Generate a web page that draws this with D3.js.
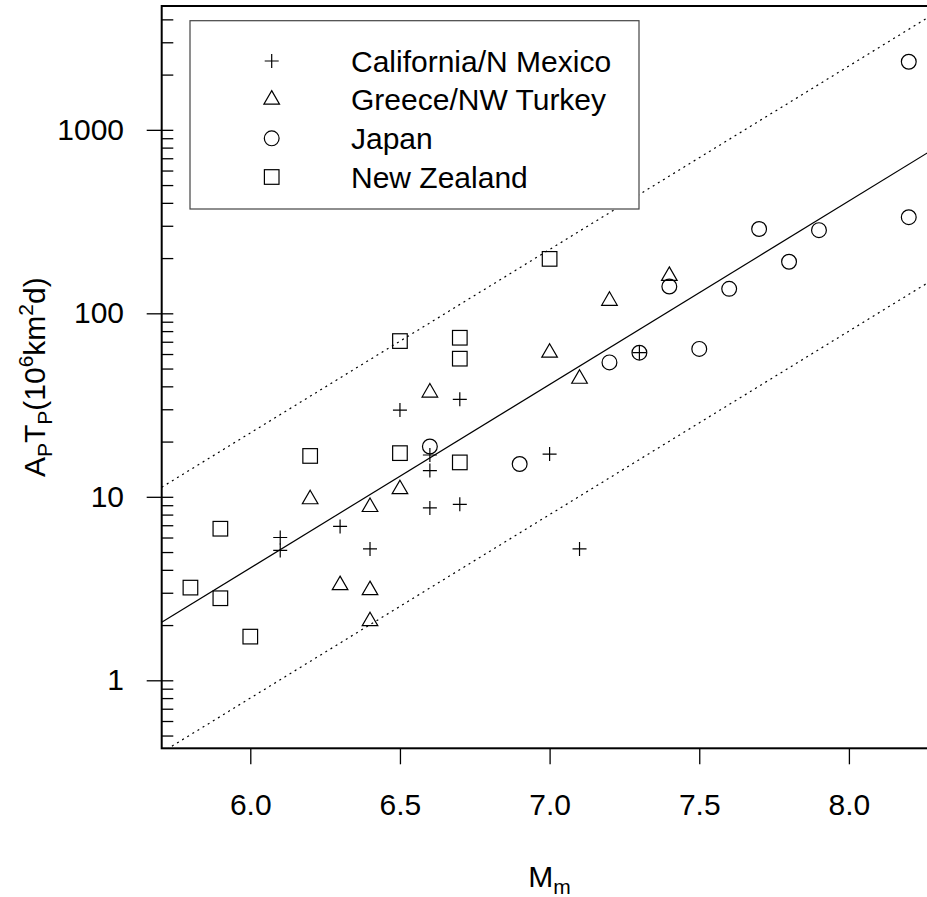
<!DOCTYPE html>
<html>
<head>
<meta charset="utf-8">
<script src="https://cdn.jsdelivr.net/npm/d3@7"></script>
<style>
  body { margin: 0; background: #fff; }
  svg { display: block; }
  text { font-family: "Liberation Sans", Arial, sans-serif; fill: #000; }
</style>
</head>
<body>
<div id="chart"></div>
<script>
// data
const regions = ["California/N Mexico", "Greece/NW Turkey", "Japan", "New Zealand"];
const symbols = ["plus", "triangle", "circle", "square"];

const caliM = [6.1, 6.1, 6.3, 6.4, 6.5, 6.6, 6.6, 6.6, 6.7, 6.7, 7.0, 7.1, 7.3];
const caliA = [6.0, 5.1, 6.9, 5.2, 29.7, 16.9, 13.9, 8.7, 34, 9.1, 17.1, 5.2, 61];

const greeceM = [6.2, 6.3, 6.4, 6.4, 6.4, 6.5, 6.6, 7.0, 7.1, 7.2, 7.4];
const greeceA = [9.7, 3.3, 8.8, 3.1, 2.1, 11.0, 37, 61, 44, 117, 160];

const japanM = [6.6, 6.9, 7.2, 7.3, 7.4, 7.5, 7.6, 7.7, 7.8, 7.9, 8.2, 8.2];
const japanA = [18.8, 15.1, 54, 61, 140, 64, 136, 288, 191, 284, 334, 2350];

const nzM = [5.8, 5.9, 5.9, 6.0, 6.2, 6.5, 6.5, 6.7, 6.7, 6.7, 7.0];
const nzA = [3.2, 2.8, 6.7, 1.73, 16.7, 70.6, 17.3, 73.6, 56.6, 15.4, 198];

// log10(ApTp) = intercept + slope * M
const lineSlope = 1;
const lineIntercepts = [-5.388, -4.652, -6.097];
const lineDash = [null, "2,4", "2,4"];

const xTicks = [6.0, 6.5, 7.0, 7.5, 8.0];
const yMajor = [1, 10, 100, 1000];
const yMinor = [0.5, 0.6, 0.7, 0.8, 0.9,
  2, 3, 4, 5, 6, 7, 8, 9, 20, 30, 40, 50, 60, 70, 80, 90,
  200, 300, 400, 500, 600, 700, 800, 900, 2000, 3000, 4000];

const width = 927, height = 897;
const plotL = 161.7, plotR = 937.5, plotT = 6, plotB = 748.3;
const fontSize = 30, subSize = 21;

const x = d3.scaleLinear().domain([5.704, 8.296]).range([plotL, plotR]);
const y = d3.scaleLog().domain([0.426, 4730]).range([plotB, plotT]);

const svg = d3.select("#chart").append("svg")
  .attr("width", width)
  .attr("height", height);

svg.append("defs").append("clipPath").attr("id", "plotclip")
  .append("rect")
  .attr("x", plotL).attr("y", plotT)
  .attr("width", plotR - plotL).attr("height", plotB - plotT);

const plot = svg.append("g").attr("clip-path", "url(#plotclip)");

// fitted line and the two bounds
const line = d3.line().x(d => x(d[0])).y(d => y(d[1]));
lineIntercepts.forEach((a, i) => {
  const pts = x.domain().map(m => [m, Math.pow(10, a + lineSlope * m)]);
  plot.append("path")
    .attr("d", line(pts))
    .attr("fill", "none")
    .attr("stroke", "#000")
    .attr("stroke-width", 1.2)
    .attr("stroke-dasharray", lineDash[i]);
});

function drawSymbol(g, type, cx, cy) {
  const s = g.append("g")
    .attr("fill", "none")
    .attr("stroke", "#000")
    .attr("stroke-width", 1.2);
  if (type === "plus") {
    s.append("path").attr("d", `M${cx - 7},${cy}H${cx + 7}M${cx},${cy - 7}V${cy + 7}`);
  } else if (type === "triangle") {
    const r = 9, c = 7.8;
    s.append("path").attr("d", `M${cx},${cy - r}L${cx + c},${cy + r / 2}L${cx - c},${cy + r / 2}Z`);
  } else if (type === "circle") {
    s.append("circle").attr("cx", cx).attr("cy", cy).attr("r", 7.4);
  } else {
    s.append("rect").attr("x", cx - 7.3).attr("y", cy - 7.3).attr("width", 14.6).attr("height", 14.6);
  }
}

const series = [
  { m: caliM, a: caliA },
  { m: greeceM, a: greeceA },
  { m: japanM, a: japanA },
  { m: nzM, a: nzA }
];

series.forEach((s, i) => {
  s.m.forEach((m, j) => drawSymbol(plot, symbols[i], x(m), y(s.a[j])));
});

// frame
svg.append("rect")
  .attr("x", plotL).attr("y", plotT)
  .attr("width", plotR - plotL).attr("height", plotB - plotT)
  .attr("fill", "none")
  .attr("stroke", "#000")
  .attr("stroke-width", 2);

// y axis: outward majors with labels, inward majors+minors
const yAxisOut = svg.append("g")
  .attr("transform", `translate(${plotL},0)`)
  .call(d3.axisLeft(y).tickValues(yMajor).tickSize(15).tickSizeOuter(0)
    .tickPadding(22.7).tickFormat(d3.format("d")));
const yAxisIn = svg.append("g")
  .attr("transform", `translate(${plotL},0)`)
  .call(d3.axisRight(y).tickValues(yMajor.concat(yMinor)).tickSize(11.6).tickSizeOuter(0)
    .tickFormat(""));

// x axis
const xAxis = svg.append("g")
  .attr("transform", `translate(0,${plotB})`)
  .call(d3.axisBottom(x).tickValues(xTicks).tickSize(16).tickSizeOuter(0)
    .tickPadding(29.4).tickFormat(d3.format(".1f")));

[yAxisOut, yAxisIn, xAxis].forEach(ax => {
  ax.select(".domain").remove();
  ax.selectAll(".tick line").attr("stroke", "#000").attr("stroke-width", 1.3);
  ax.selectAll("text")
    .attr("font-family", "'Liberation Sans', Arial, sans-serif")
    .attr("font-size", fontSize)
    .attr("fill", "#000");
});

// axis titles
const xt = svg.append("text")
  .attr("x", (plotL + plotR) / 2)
  .attr("y", 886.7)
  .attr("text-anchor", "middle")
  .attr("font-size", fontSize);
xt.append("tspan").text("M");
xt.append("tspan").attr("font-size", subSize).attr("dy", 7).text("m");

const yt = svg.append("text")
  .attr("transform", `translate(45,${(plotT + plotB) / 2}) rotate(-90)`)
  .attr("text-anchor", "middle")
  .attr("font-size", fontSize);
yt.append("tspan").text("A");
yt.append("tspan").attr("font-size", subSize).attr("dy", 7).text("P");
yt.append("tspan").attr("dy", -7).text("T");
yt.append("tspan").attr("font-size", subSize).attr("dy", 7).text("P");
yt.append("tspan").attr("dy", -7).text("(10");
yt.append("tspan").attr("font-size", subSize).attr("dy", -12).text("6");
yt.append("tspan").attr("dy", 12).text("km");
yt.append("tspan").attr("font-size", subSize).attr("dy", -12).text("2");
yt.append("tspan").attr("dy", 12).text("d)");

// legend
const legend = svg.append("g");
legend.append("rect")
  .attr("x", 190).attr("y", 20.7)
  .attr("width", 449).attr("height", 188.3)
  .attr("fill", "#fff")
  .attr("stroke", "#444")
  .attr("stroke-width", 1.2);

const rowY = d3.scalePoint().domain(regions).range([61, 177]);
regions.forEach((r, i) => {
  drawSymbol(legend, symbols[i], 271.7, rowY(r));
  legend.append("text")
    .attr("x", 351)
    .attr("y", rowY(r) + 10.7)
    .attr("font-size", fontSize)
    .text(r);
});
</script>
</body>
</html>
